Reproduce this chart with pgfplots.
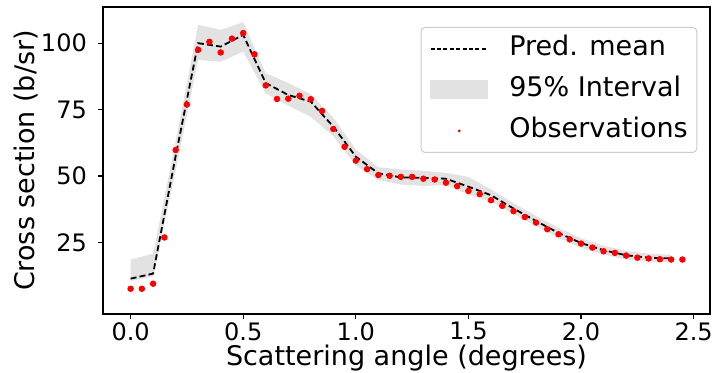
\documentclass[border=0pt]{standalone}
\usepackage{fontspec}
\setmainfont{DejaVu Sans}
\usepackage{pgfplots}
\usepackage{pgfplotstable}
\pgfplotsset{compat=1.18}

\definecolor{bandgray}{RGB}{226,226,226}
\definecolor{framegray}{RGB}{204,204,204}

% Measured cross sections
\pgfplotstableread{
x     y
0.00  7.6
0.05  7.6
0.10  9.5
0.15  26.9
0.20  59.8
0.25  76.9
0.30  97.5
0.35  100.5
0.40  96.5
0.45  101.7
0.50  103.8
0.55  95.8
0.60  84.1
0.65  79.0
0.70  79.1
0.75  80.2
0.80  78.9
0.85  74.5
0.90  67.7
0.95  61.0
1.00  55.8
1.05  52.6
1.10  50.4
1.15  50.1
1.20  49.7
1.25  49.7
1.30  49.0
1.35  48.7
1.40  47.5
1.45  46.2
1.50  44.4
1.55  43.2
1.60  40.9
1.65  38.8
1.70  36.8
1.75  34.6
1.80  32.5
1.85  30.0
1.90  28.1
1.95  26.2
2.00  24.6
2.05  23.1
2.10  21.7
2.15  21.1
2.20  20.1
2.25  19.3
2.30  19.0
2.35  18.7
2.40  18.6
2.45  18.6
}\obs

% Predictive mean
\pgfplotstableread{
x    mean
0.0  11.4
0.1  13.3
0.2  57.5
0.3  100.0
0.4  98.7
0.5  103.1
0.6  85.0
0.7  80.5
0.8  78.0
0.9  68.6
1.0  57.3
1.1  51.0
1.2  49.5
1.3  49.3
1.4  49.0
1.5  46.0
1.6  42.8
1.7  37.8
1.8  33.1
1.9  28.6
2.0  24.8
2.1  22.1
2.2  20.2
2.3  19.3
2.4  19.0
}\pred

% 95% band outline: upper bound left to right, then lower bound back
\pgfplotstableread{
x    y
0.0  18.6
0.1  20.8
0.2  63.0
0.3  106.9
0.4  105.0
0.5  107.9
0.6  88.7
0.7  85.0
0.8  80.8
0.9  72.0
1.0  60.0
1.1  53.3
1.2  52.5
1.3  52.0
1.4  51.2
1.5  49.7
1.6  45.0
1.7  39.8
1.8  35.0
1.9  30.5
2.0  26.6
2.1  23.8
2.2  21.8
2.3  20.8
2.4  20.4
2.4  17.6
2.3  17.8
2.2  18.6
2.1  20.4
2.0  23.0
1.9  26.8
1.8  31.2
1.7  35.8
1.6  40.5
1.5  43.0
1.4  46.6
1.3  46.3
1.2  46.8
1.1  48.5
1.0  54.0
0.9  65.0
0.8  72.3
0.7  76.5
0.6  81.1
0.5  96.8
0.4  93.0
0.3  93.7
0.2  52.0
0.1  12.3
0.0  10.5
}\band

\pgfplotsset{
  meanlegend/.style={legend image code/.code={%
    \draw[black, line width=0.6pt, sharp corners, dash pattern=on 2pt off 1.2pt] (0pt,0pt) -- (28.5pt,0pt);}},
  bandlegend/.style={legend image code/.code={%
    \fill[bandgray, sharp corners] (0pt,-4.5pt) rectangle (28.5pt,4.5pt);}},
  obslegend/.style={legend image code/.code={%
    \path[draw=none, fill=none] (0pt,0pt) rectangle (28.5pt,0.1pt);
    \fill[red, draw=none] (14.25pt,0pt) circle (0.8pt);}},
}

\begin{document}
\begin{tikzpicture}
\begin{axis}[
  at={(0,0)}, anchor=south west,
  width=303.5pt, height=153.5pt, scale only axis,
  xmin=-0.1225, xmax=2.5725, ymin=-1.9, ymax=113.6,
  xtick={0,0.5,1,1.5,2,2.5},
  xticklabels={0.0,0.5,1.0,1.5,2.0,2.5},
  ytick={25,50,75,100},
  yticklabels={25,50,75,100},
  tick align=outside, tick pos=left,
  major tick length=2.5pt,
  every tick/.style={black, line width=0.6pt},
  axis line style={black, line width=0.6pt},
  tick label style={font=\fontsize{12}{14}\selectfont, inner sep=0pt},
  xticklabel style={anchor=north, yshift=-1.5pt},
  yticklabel style={anchor=east, xshift=-5.4pt},
  xlabel={Scattering angle (degrees)},
  ylabel={Cross section (b/sr)},
  label style={font=\fontsize{13.5}{16}\selectfont, inner sep=0pt},
  xlabel style={at={(axis description cs:0.5,-0.143)}, anchor=center},
  ylabel style={at={(axis description cs:-0.1269,0.5)}, anchor=center},
  legend cell align=left,
  legend style={
    at={(0.979,0.935)}, anchor=north east,
    draw=framegray, line width=0.5pt, rounded corners=2pt, fill=white,
    font=\fontsize{13.5}{16}\selectfont,
    inner xsep=4.5pt, inner ysep=4pt,
    nodes={inner sep=0pt, text height=10pt, text depth=3.5pt},
    row sep=7pt,
    /tikz/every odd column/.append style={column sep=10.5pt},
  },
]
\addlegendimage{meanlegend}
\addlegendentry{Pred. mean}
\addlegendimage{bandlegend}
\addlegendentry{95\% Interval}
\addlegendimage{obslegend}
\addlegendentry{Observations}

\addplot[fill=bandgray, draw=none, forget plot] table[x=x, y=y] {\band} -- cycle;
\addplot[black, line width=0.9pt, dash pattern=on 3pt off 1.6pt, forget plot]
  table[x=x, y=mean] {\pred};
\addplot[only marks, mark=*, mark size=1.4pt, red,
  mark options={draw=red, fill=red}, forget plot]
  table[x=x, y=y] {\obs};
\end{axis}
\path (-51.5pt,-29pt) rectangle (307pt,157pt);
\end{tikzpicture}
\end{document}
